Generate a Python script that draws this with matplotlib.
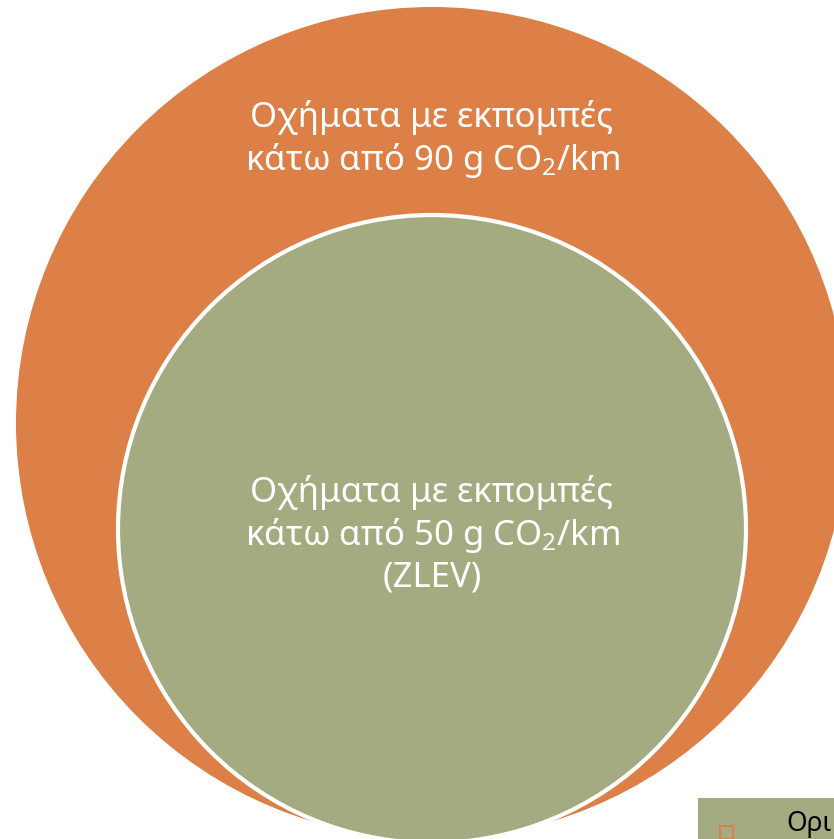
import matplotlib
matplotlib.use("Agg")
import matplotlib.pyplot as plt
from matplotlib.patches import Circle, Rectangle

# ---- data ----
thresholds = [90, 50]                      # g CO2/km
labels = [
    "Οχήματα με εκπομπές\nκάτω από 90 g CO$_2$/km",
    "Οχήματα με εκπομπές\nκάτω από 50 g CO$_2$/km\n(ZLEV)",
]
circle_colors = ["#DD8047", "#A5AB81"]
corner_text = "Ορι"

FONT = "Noto Sans"
plt.rcParams['font.family'] = [FONT, 'DejaVu Sans']
plt.rcParams['mathtext.fontset'] = 'custom'
plt.rcParams['mathtext.rm'] = FONT
plt.rcParams['mathtext.it'] = FONT
plt.rcParams['mathtext.default'] = 'regular'

W, H = 834, 839
fig = plt.figure(figsize=(W / 100, H / 100), dpi=100)
ax = fig.add_axes([0, 0, 1, 1])
ax.set_xlim(0, W)
ax.set_ylim(H, 0)
ax.set_aspect('equal')
ax.axis('off')

# geometry (pixels)
centers = [(432, 423), (432, 529)]
radii = [416, 314]
text_pos = [(432, 140), (432, 535)]

for i, thr in enumerate(thresholds):
    c = Circle(centers[i], radii[i], facecolor=circle_colors[i],
               edgecolor='white' if i > 0 else 'none',
               linewidth=3 if i > 0 else 0, zorder=1 + i)
    ax.add_patch(c)
    ax.text(text_pos[i][0], text_pos[i][1], labels[i], color='white',
            fontsize=25, ha='center', va='center', linespacing=1.2,
            zorder=5)

# bottom-right partially visible box
ax.add_patch(Rectangle((698, 798), 200, 60, facecolor=circle_colors[1],
                       edgecolor='none', zorder=6))
ax.add_patch(Rectangle((720, 826), 13, 13, facecolor='none',
                       edgecolor=circle_colors[0], linewidth=1.5, zorder=7))
ax.text(786, 838, corner_text, color='black', fontsize=19, ha='left',
        va='bottom', zorder=7)

fig.savefig("out.png", dpi=100, facecolor='white')
